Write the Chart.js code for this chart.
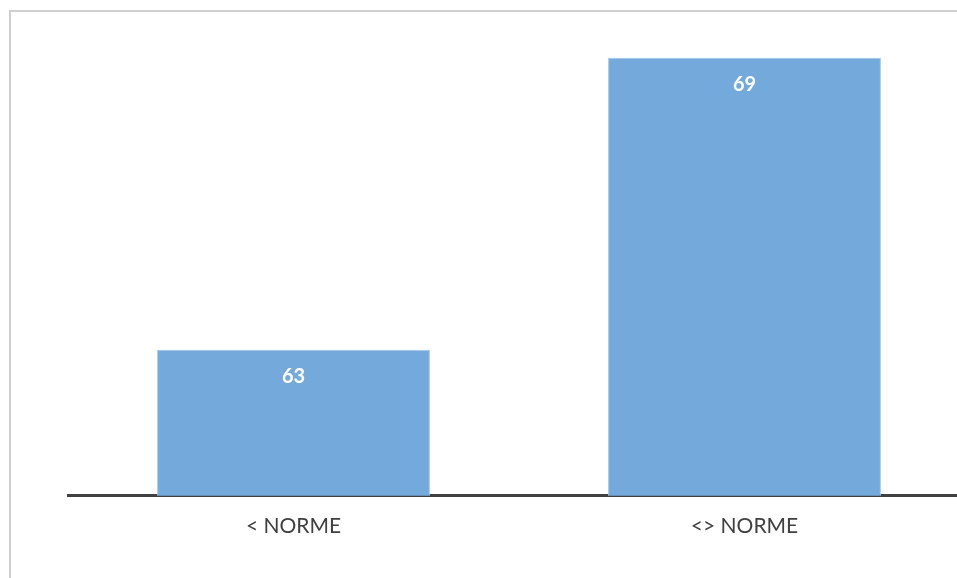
<!DOCTYPE html>
<html>
<head>
<meta charset="utf-8">
<script src="https://cdn.jsdelivr.net/npm/chart.js@4.4.1/dist/chart.umd.min.js"></script>
<style>
  html, body { margin: 0; padding: 0; background: #fff; overflow: hidden; }
  body { width: 957px; height: 578px; position: relative; }
  #frame {
    position: absolute; left: 9px; top: 10px; width: 960px; height: 580px;
    border-left: 2px solid #cfcfcf; border-top: 2px solid #cfcfcf;
    box-sizing: border-box;
  }
  #wrap { position: absolute; left: 0; top: 0; width: 980px; height: 578px; }
</style>
</head>
<body>
<div id="frame"></div>
<div id="wrap"><canvas id="myChart"></canvas></div>
<script>
let categories = ['< NORME', '<> NORME'];
let values = [63, 69];
let yMin = 60;
let yMax = 70;

// draws each value in white near the top of its bar
let valueLabels = {
    id: 'valueLabels',
    afterDatasetsDraw: (chart) => {
        let ctx = chart.ctx;
        let meta = chart.getDatasetMeta(0);
        ctx.save();
        ctx.fillStyle = '#ffffff';
        ctx.font = 'bold 20px Lato, "Open Sans", sans-serif';
        ctx.textAlign = 'center';
        ctx.textBaseline = 'middle';
        meta.data.forEach((bar, i) => {
            ctx.fillText(String(values[i]), bar.x, bar.y + 27);
        });
        ctx.restore();
    }
};

let ctx = document.getElementById('myChart').getContext('2d');
let myChart = new Chart(ctx, {
    type: 'bar',
    data: {
        labels: categories,
        datasets: [{
            data: values,
            backgroundColor: '#74a9db',
            borderColor: '#a3c6e8',
            borderWidth: 1,
            categoryPercentage: 1,
            barPercentage: 0.605
        }]
    },
    options: {
        responsive: true,
        maintainAspectRatio: false,
        animation: false,
        layout: {
            padding: { left: 68, right: 10, top: 9, bottom: 21 }
        },
        plugins: {
            legend: { display: false },
            tooltip: { enabled: false }
        },
        scales: {
            x: {
                grid: { display: false, drawTicks: false },
                border: { display: true, color: '#404040', width: 3 },
                ticks: {
                    color: '#404040',
                    padding: 18,
                    font: { family: 'Lato, "Open Sans", sans-serif', size: 21 }
                }
            },
            y: {
                display: false,
                min: yMin,
                max: yMax
            }
        }
    },
    plugins: [valueLabels]
});
</script>
</body>
</html>
